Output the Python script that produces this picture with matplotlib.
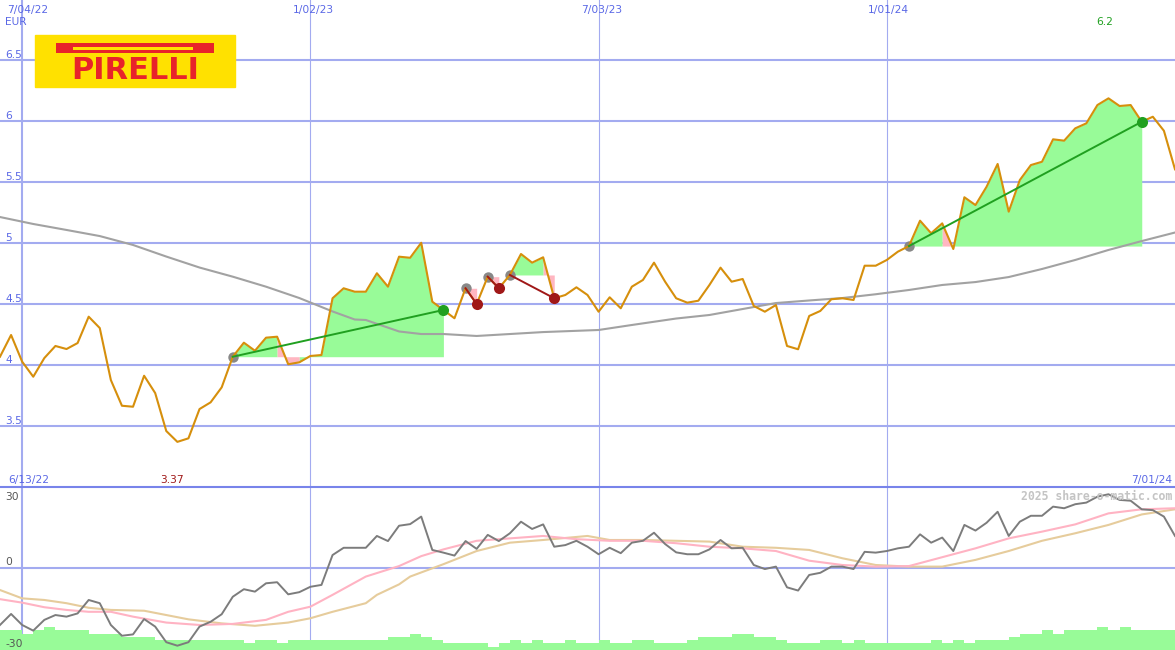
import matplotlib
matplotlib.use("Agg")
import matplotlib.pyplot as plt
import matplotlib.dates as mdates
import matplotlib.transforms as mtransforms
from matplotlib.patches import Rectangle
from matplotlib.lines import Line2D
import numpy as np
import pandas as pd

# ---------------- data ----------------
weeks = pd.date_range("2022-06-20", periods=107, freq="7D")

price = [4.068, 4.246, 4.027, 3.904, 4.057, 4.156, 4.131, 4.180, 4.396, 4.303,
         3.877, 3.666, 3.658, 3.912, 3.770, 3.459, 3.370, 3.399, 3.639, 3.694,
         3.817, 4.068, 4.183, 4.117, 4.224, 4.232, 4.006, 4.022, 4.074, 4.082,
         4.547, 4.629, 4.601, 4.601, 4.752, 4.642, 4.888, 4.879, 5.002, 4.519,
         4.451, 4.383, 4.629, 4.500, 4.724, 4.629, 4.738, 4.910, 4.839, 4.883,
         4.547, 4.574, 4.637, 4.574, 4.437, 4.555, 4.465, 4.642, 4.697, 4.839,
         4.683, 4.547, 4.511, 4.527, 4.656, 4.798, 4.683, 4.705, 4.484, 4.437,
         4.492, 4.156, 4.129, 4.402, 4.443, 4.539, 4.547, 4.533, 4.814, 4.814,
         4.861, 4.929, 4.975, 5.183, 5.080, 5.161, 4.951, 5.375, 5.311, 5.461,
         5.648, 5.257, 5.516, 5.639, 5.666, 5.850, 5.839, 5.940, 5.981, 6.131,
         6.186, 6.123, 6.131, 5.994, 6.035, 5.920, 5.604]

ma_idx = [0, 3, 6, 9, 12, 15, 18, 21, 24, 27, 30, 32, 33, 36, 38, 40, 43, 46, 49,
          54, 57, 61, 64, 67, 70, 73, 76, 79, 82, 85, 88, 91, 94, 97, 100, 103, 106]
ma_val = [5.213, 5.156, 5.107, 5.057, 4.984, 4.889, 4.799, 4.724, 4.642, 4.549,
          4.439, 4.373, 4.369, 4.275, 4.254, 4.254, 4.238, 4.254, 4.270, 4.287,
          4.328, 4.381, 4.410, 4.459, 4.508, 4.529, 4.549, 4.580, 4.615, 4.656,
          4.680, 4.721, 4.787, 4.861, 4.943, 5.016, 5.086]

momentum = [-21.3, -17.2, -21.3, -23.4, -19.4, -17.6, -18.2, -17.0, -12.0, -13.2,
            -21.3, -25.3, -24.8, -19.1, -21.9, -27.7, -29.0, -27.7, -21.9, -20.1,
            -17.3, -10.8, -8.0, -8.9, -5.8, -5.4, -9.9, -9.1, -7.1, -6.4,
            4.7, 7.4, 7.4, 7.4, 11.8, 9.9, 15.6, 16.2, 19.0, 6.6,
            5.6, 4.5, 9.9, 7.0, 12.2, 9.9, 12.8, 17.1, 14.4, 16.1,
            7.8, 8.4, 10.0, 7.8, 5.0, 7.4, 5.4, 9.3, 10.0, 13.0,
            8.8, 5.7, 5.0, 5.0, 6.8, 10.3, 7.2, 7.4, 1.0, -0.5,
            0.4, -7.3, -8.5, -2.7, -1.9, 0.4, 0.4, -0.5, 5.9, 5.6,
            6.2, 7.2, 7.8, 12.4, 9.3, 11.2, 6.2, 15.9, 13.8, 16.7,
            20.8, 11.8, 17.1, 19.3, 19.3, 22.7, 22.1, 23.6, 24.2, 26.4,
            27.3, 25.2, 24.9, 21.7, 21.4, 19.0, 11.8]

fast_idx = [0, 2, 4, 6, 8, 10, 12, 15, 18, 21, 24, 26, 28, 30, 33, 36, 38, 40, 43,
            46, 49, 52, 55, 58, 61, 64, 67, 70, 73, 76, 79, 82, 85, 88, 91, 94,
            97, 100, 103, 106]
fast_val = [-11.7, -13.0, -14.7, -15.7, -16.4, -16.4, -18.2, -20.4, -21.3, -20.9,
            -19.4, -16.4, -14.5, -10.1, -3.3, 0.6, 4.3, 6.8, 10.0, 10.9,
            11.8, 10.6, 10.0, 10.0, 9.1, 7.8, 7.2, 6.2, 2.6, 1.0,
            0.4, 0.6, 3.9, 7.2, 10.9, 13.4, 16.1, 20.2, 21.7, 22.1]

slow_idx = [0, 2, 4, 6, 8, 10, 13, 17, 20, 23, 26, 28, 30, 33, 34, 36, 37, 40, 43,
            46, 49, 53, 55, 58, 61, 64, 67, 70, 73, 76, 79, 82, 85, 88, 91, 94,
            97, 100, 103, 106]
slow_val = [-8.3, -11.4, -12.0, -13.2, -14.9, -15.7, -16.0, -19.2, -20.7, -21.6,
            -20.4, -18.8, -16.4, -13.2, -10.1, -6.2, -3.3, 1.3, 6.2, 9.3,
            10.3, 11.8, 10.3, 10.3, 10.0, 9.7, 7.8, 7.4, 6.6, 3.5,
            1.0, 0.4, 0.4, 2.9, 6.2, 10.0, 12.8, 15.9, 19.8, 21.7]

volume = [6, 6, 5, 6, 7, 6, 6, 6, 5, 5, 5, 4, 4, 4, 3, 3, 3, 3, 3, 3,
          3, 3, 2, 3, 3, 2, 3, 3, 3, 3, 3, 3, 3, 3, 3, 4, 4, 5, 4, 3,
          2, 2, 2, 2, 1, 2, 3, 2, 3, 2, 2, 3, 2, 2, 3, 2, 2, 3, 3, 2,
          2, 2, 3, 4, 4, 4, 5, 5, 4, 4, 3, 2, 2, 2, 3, 3, 2, 3, 2, 2,
          2, 2, 2, 2, 3, 2, 3, 2, 3, 3, 3, 4, 5, 5, 6, 5, 6, 6, 6, 7,
          6, 7, 6, 6, 6, 6]

# (start week, end week, signal type, weeks whose incoming segment is shaded pink)
signals = [(21, 40, "buy", [26, 27]),
           (42, 43, "sell", [43]),
           (44, 45, "sell", [45]),
           (46, 50, "sell", [50]),
           (82, 103, "buy", [86])]

price_ticks = [3.5, 4, 4.5, 5, 5.5, 6, 6.5]
osc_ticks = ["30", "0", "-30"]
date_ticks = ["2022-07-04", "2023-01-02", "2023-07-03", "2024-01-01"]
date_labels = ["7/04/22", "1/02/23", "7/03/23", "1/01/24"]
currency = "EUR"
range_start_label = "6/13/22"
range_end_label = "7/01/24"
watermark = "2025 share-o-matic.com"
logo_text = "PIRELLI"

# ---------------- style ----------------
W, H = 1175, 650
GRID = "#a3abf0"
SEP = "#7884ea"
LBL = "#5a68e6"
PRICE_C = "#d68f0c"
MA_C = "#a2a2a2"
GREEN_F = "#98fb98"
PINK_F = "#ffb6c1"
BUY_C = "#20a020"
SELL_C = "#a01818"
FS = 7.7

x = mdates.date2num(weeks.to_numpy())
price = np.array(price)
px = 1.0 / 100  # inch per pixel

fig = plt.figure(figsize=(W / 100, H / 100), dpi=100, facecolor="white")
bot_frac = 163 / H
ax = fig.add_axes([0, bot_frac, 1, 1 - bot_frac])
ax.set_xlim(x[0], x[-1])
ax.set_ylim(3.0, 6.992)
ax.axis("off")


def shift(trans, dx, dy):
    return trans + mtransforms.ScaledTranslation(dx * px, dy * px, fig.dpi_scale_trans)


# grid
for v in price_ticks:
    ax.axhline(v, color=GRID, lw=1.5, zorder=1)
for i, d in enumerate(date_ticks):
    ax.axvline(mdates.date2num(pd.Timestamp(d)), color=GRID,
               lw=1.5 if i == 0 else 0.8, zorder=1)

# signal fills
for s, e, kind, pinks in signals:
    base = price[s]
    cols = ["p" if (k + 1) in pinks else "g" for k in range(s, e)]
    k = s
    while k < e:
        c = cols[k - s]
        j = k
        while j + 1 < e and cols[j + 1 - s] == c:
            j += 1
        ax.fill_between(x[k:j + 2], price[k:j + 2], base,
                        color=GREEN_F if c == "g" else PINK_F, lw=0, zorder=2)
        k = j + 1

# moving average & price
ax.plot(x[ma_idx], ma_val, color=MA_C, lw=1.5, zorder=3)
ax.plot(x, price, color=PRICE_C, lw=1.5, zorder=4)

for s, e, kind, pinks in signals:
    c = BUY_C if kind == "buy" else SELL_C
    ax.plot([x[s], x[e]], [price[s], price[e]], color=c, lw=1.4, zorder=5)
    ax.plot(x[s], price[s], "o", color="#888888", ms=7.5, mec="none", zorder=3.5)
    ax.plot(x[e], price[e], "o", color=c, ms=8, mec="none", zorder=6)

# labels top panel
bl = mtransforms.blended_transform_factory(fig.transFigure, ax.transData)
for v in price_ticks:
    ax.text(5 / W, v, f"{v:g}", transform=shift(bl, 0, 2), ha="left",
            va="baseline", color=LBL, fontsize=FS)
bx = mtransforms.blended_transform_factory(ax.transData, fig.transFigure)
offs = [6, 3, 3, 2]
for d, lab, o in zip(date_ticks, date_labels, offs):
    ax.text(mdates.date2num(pd.Timestamp(d)), 1 - 13 / H, lab,
            transform=shift(bx, o, 0), ha="center", va="baseline",
            color=LBL, fontsize=FS)
fig.text(5 / W, 1 - 25 / H, currency, ha="left", va="baseline", color=LBL, fontsize=FS)

imax = int(np.argmax(price))
imin = int(np.argmin(price))
ax.text(x[imax], 1 - 25 / H, f"{price[imax]:.1f}", transform=shift(bx, -4, 0),
        ha="center", va="baseline", color=BUY_C, fontsize=FS)
ax.text(x[imin], 1 - 483 / H, f"{price[imin]:.2f}", transform=shift(bx, -5, 0),
        ha="center", va="baseline", color=SELL_C, fontsize=FS)
fig.text(8 / W, 1 - 483 / H, range_start_label, ha="left", va="baseline",
         color=LBL, fontsize=FS)
fig.text(1172 / W, 1 - 483 / H, range_end_label, ha="right", va="baseline",
         color=LBL, fontsize=FS)

# logo
RED = "#e8232a"
fig.add_artist(Rectangle((35 / W, 1 - 87 / H), 200 / W, 52 / H,
                         transform=fig.transFigure, color="#ffe100", zorder=5))
fig.add_artist(Rectangle((56 / W, 1 - 53 / H), 158 / W, 10 / H,
                         transform=fig.transFigure, color=RED, lw=0, zorder=6))
fig.add_artist(Rectangle((73 / W, 1 - 49.5 / H), 120 / W, 2.2 / H,
                         transform=fig.transFigure, color="#ffe100", lw=0, zorder=7))
fig.text(135 / W, 1 - 79 / H, logo_text, ha="center", va="baseline",
         color=RED, fontsize=22, fontweight="bold", zorder=7)

# ---------------- bottom panel ----------------
axv = fig.add_axes([0, 0, 1, bot_frac], zorder=0)
axv.set_xlim(x[0], x[-1])
axv.set_ylim(0, 50)
axv.axis("off")
for i, d in enumerate(date_ticks):
    axv.axvline(mdates.date2num(pd.Timestamp(d)), color=GRID,
                lw=1.5 if i == 0 else 0.8, zorder=1)
axv.bar(x[:-1], volume, width=np.diff(x), align="edge", color=GREEN_F, lw=0, zorder=2)

ax2 = fig.add_axes([0, 0, 1, bot_frac], zorder=1)
ax2.set_xlim(x[0], x[-1])
ax2.set_ylim(-30.6, 30)
ax2.axis("off")
ax2.axhline(0, color=GRID, lw=1.5, zorder=1)
ax2.plot(x[slow_idx], slow_val, color="#e6cc9c", lw=1.5, zorder=2)
ax2.plot(x[fast_idx], fast_val, color="#ffb3c3", lw=1.5, zorder=3)
ax2.plot(x, momentum, color="#7c7c7c", lw=1.4, zorder=4)

OSC = "#555555"
fig.text(5 / W, 1 - 500 / H, osc_ticks[0], ha="left", va="baseline", color=OSC, fontsize=FS)
ax2.text(5 / W, 0, osc_ticks[1], transform=shift(mtransforms.blended_transform_factory(
    fig.transFigure, ax2.transData), 0, 2.5), ha="left", va="baseline",
    color=OSC, fontsize=FS)
fig.text(5 / W, 1 - 647 / H, osc_ticks[2], ha="left", va="baseline", color=OSC, fontsize=FS)
fig.text(1172 / W, 1 - 500 / H, watermark, ha="right", va="baseline",
         color="#c4c4c4", fontsize=8.3, family="DejaVu Sans Mono", fontweight="bold")

fig.add_artist(Line2D([0, 1], [bot_frac, bot_frac], transform=fig.transFigure,
                      color=SEP, lw=1.5, zorder=3))

fig.savefig("out.png", dpi=100, facecolor="white")
